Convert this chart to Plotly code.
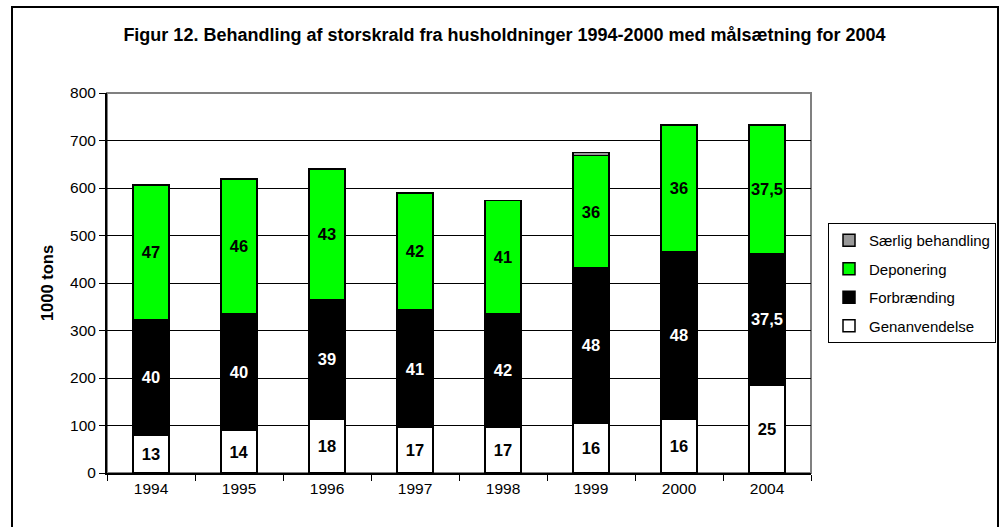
import plotly.graph_objects as go

# år og mængder (1000 tons)
years = ["1994", "1995", "1996", "1997", "1998", "1999", "2000", "2004"]
genanvendelse = [80, 89, 113, 96, 96, 105, 113, 185]
forbraending = [243, 246, 252, 248, 240, 327, 353, 277]
deponering = [283, 284, 275, 246, 238, 236, 267, 271]
saerlig = [0, 0, 0, 0, 0, 7, 0, 0]

# procent-etiketter i søjlerne
pct_gen = ["13", "14", "18", "17", "17", "16", "16", "25"]
pct_forb = ["40", "40", "39", "41", "42", "48", "48", "37,5"]
pct_dep = ["47", "46", "43", "42", "41", "36", "36", "37,5"]

FONT = "Liberation Sans, Arial, sans-serif"

fig = go.Figure()

series = [
    ("Genanvendelse", genanvendelse, pct_gen, "#ffffff", "black", 4),
    ("Forbrænding", forbraending, pct_forb, "#000000", "white", 3),
    ("Deponering", deponering, pct_dep, "#00ff00", "black", 2),
    ("Særlig behandling", saerlig, None, "#999999", "black", 1),
]

for name, vals, labels, color, tcolor, rank in series:
    fig.add_trace(go.Bar(
        x=years, y=vals, name=name,
        text=labels, textposition="inside" if labels else "none",
        insidetextanchor="middle", textangle=0,
        textfont=dict(family=FONT, size=16.5, color=tcolor, weight="bold"),
        marker=dict(color=color, line=dict(color="black", width=1.5)),
        width=0.41, legendgroup=name, legendrank=rank,
    ))

# plot-areal: x 107..811, y 93..473 px
def px(x):
    return (x - 107) / 704

def py(y):
    return (473 - y) / 380

fig.add_shape(type="rect", xref="paper", yref="paper",
              x0=0, x1=1, y0=0, y1=1,
              line=dict(color="#808080", width=2), layer="below")
fig.add_shape(type="rect", xref="paper", yref="paper",
              x0=px(12), x1=px(998), y0=py(535), y1=py(7),
              line=dict(color="black", width=2))

fig.update_layout(
    barmode="stack",
    width=999, height=527,
    margin=dict(l=107, r=188, t=93, b=54, autoexpand=False),
    paper_bgcolor="white", plot_bgcolor="white",
    font=dict(family=FONT, size=15.5, color="black"),
    title=dict(text="<b>Figur 12. Behandling af storskrald fra husholdninger 1994-2000 med målsætning for 2004</b>",
               x=0.505, xanchor="center", y=1 - 35 / 527, yanchor="middle",
               font=dict(family=FONT, size=18, color="black")),
    uniformtext=dict(mode="show", minsize=16.5),
    legend=dict(x=px(828), xanchor="left", y=0.5, yanchor="middle",
                bordercolor="black", borderwidth=1, bgcolor="white",
                traceorder="grouped", tracegroupgap=6,
                font=dict(family=FONT, size=15, color="black")),
    showlegend=True,
)

fig.update_yaxes(range=[0, 800], dtick=100, showgrid=True, gridcolor="black", gridwidth=1,
                 showline=True, linecolor="black", linewidth=2,
                 ticks="outside", ticklen=6, tickcolor="black",
                 zeroline=False,
                 title=dict(text="<b>1000 tons</b>", standoff=12, font=dict(size=16.5)))
fig.update_xaxes(showline=True, linecolor="black", linewidth=2,
                 ticks="outside", ticklen=6, tickcolor="black", tickson="boundaries",
                 showgrid=False)

# siden har 8px body-margin som standard; fjern den så figuren står i hjørnet
fig.write_html("out.html", config={"displayModeBar": False},
               post_script="document.body.style.margin='0';")
